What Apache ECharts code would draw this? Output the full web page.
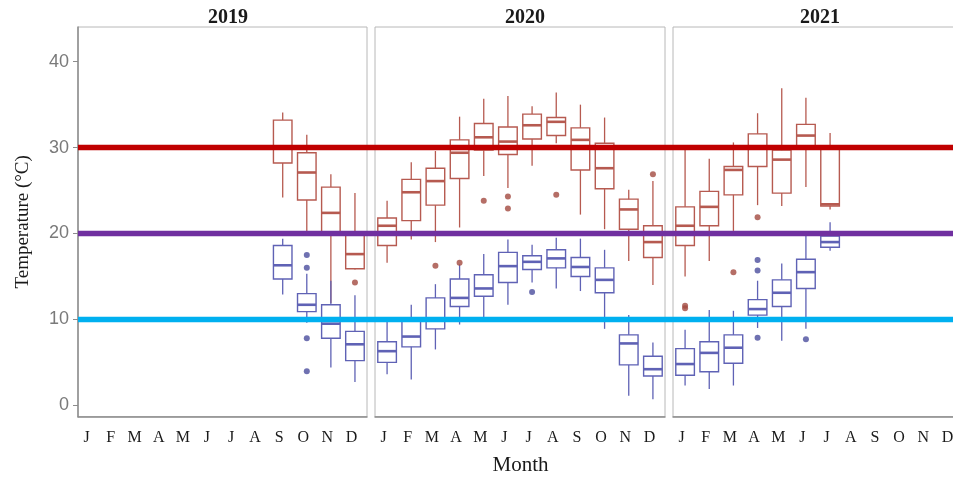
<!DOCTYPE html>
<html>
<head>
<meta charset="utf-8">
<script src="https://cdn.jsdelivr.net/npm/echarts@6/dist/echarts.min.js"></script>
<style>html,body{margin:0;padding:0;background:#fff}#c{width:953px;height:480px}</style>
</head>
<body>
<div id="c"></div>
<script>
const months = ['J','F','M','A','M','J','J','A','S','O','N','D'];
const years = ['2019','2020','2021'];
const yTicks = [0, 10, 20, 30, 40];
const thresholds = [30, 20, 10];

// per month: [min, q1, median, q3, max]; null = no data
const tmax2019 = [null,null,null,null,null,null,null,null,
  [24.2,28.2,30.0,33.2,34.1],
  [20.1,23.9,27.1,29.4,31.5],
  [11.9,20.2,22.4,25.4,26.9],
  [15.8,15.9,17.6,19.8,24.7]];
const tmin2019 = [null,null,null,null,null,null,null,null,
  [12.9,14.7,16.3,18.6,19.4],
  [9.6,10.9,11.7,13.0,15.3],
  [4.4,7.8,9.5,11.7,14.5],
  [2.7,5.2,7.1,8.6,12.8]];
const tmax2020 = [
  [16.6,18.6,20.9,21.8,23.8],
  [19.3,21.5,24.8,26.3,28.3],
  [19.0,23.3,26.1,27.6,29.6],
  [20.7,26.4,29.4,30.9,33.6],
  [26.7,29.7,31.2,32.8,35.7],
  [25.3,29.2,30.7,32.4,36.0],
  [27.9,31.0,32.6,33.9,34.8],
  [30.5,31.4,33.0,33.5,36.4],
  [22.2,27.4,30.9,32.3,35.0],
  [20.5,25.2,27.6,30.5,33.5],
  [16.8,20.5,22.8,24.0,25.1],
  [14.0,17.2,19.0,20.9,26.1]];
const tmin2020 = [
  [3.6,5.0,6.3,7.4,9.8],
  [3.0,6.8,8.0,10.0,11.7],
  [6.5,8.9,10.0,12.5,14.1],
  [9.4,11.5,12.5,14.7,16.4],
  [9.8,12.7,13.6,15.2,17.6],
  [11.7,14.3,16.2,17.8,19.3],
  [14.3,15.8,16.7,17.4,18.7],
  [13.6,16.0,17.1,18.1,19.5],
  [13.3,15.0,16.1,17.2,19.4],
  [8.9,13.1,14.6,16.0,18.1],
  [1.1,4.7,7.2,8.2,10.5],
  [0.7,3.4,4.2,5.7,7.3]];
const tmax2021 = [
  [15.0,18.6,20.9,23.1,30.0],
  [16.8,20.9,23.1,24.9,28.7],
  [20.3,24.5,27.4,27.8,30.6],
  [23.3,27.8,29.9,31.6,34.0],
  [23.2,24.7,28.6,29.7,36.9],
  [25.4,29.8,31.4,32.7,35.8],
  [22.8,23.2,23.4,29.8,31.7],
  null,null,null,null,null];
const tmin2021 = [
  [2.3,3.5,4.8,6.6,8.8],
  [1.9,3.9,6.1,7.4,11.1],
  [2.3,4.9,6.7,8.2,11.0],
  [9.0,10.5,11.2,12.3,14.5],
  [7.5,11.5,13.1,14.6,16.5],
  [8.9,13.6,15.5,17.0,19.7],
  [18.0,18.4,19.0,19.7,21.3],
  null,null,null,null,null];

// outliers: [month index, value]
const outMax2019 = [[11,14.3]];
const outMin2019 = [[9,17.5],[9,16.0],[9,7.8],[9,3.95]];
const outMax2020 = [[2,16.25],[3,16.6],[4,23.8],[5,24.3],[5,22.9],[7,24.5],[11,26.9]];
const outMin2020 = [[6,13.2]];
const outMax2021 = [[0,11.6],[0,11.3],[2,15.5],[3,21.9]];
const outMin2021 = [[3,16.9],[3,15.7],[3,7.85],[5,7.7]];

const maxSets = [tmax2019, tmax2020, tmax2021];
const minSets = [tmin2019, tmin2020, tmin2021];
const outMaxSets = [outMax2019, outMax2020, outMax2021];
const outMinSets = [outMin2019, outMin2020, outMin2021];

const RED = '#b65a50', BLUE = '#5f62b5';
const RED_PT = '#a34a40', BLUE_PT = '#4b4d9e';
const lineColors = ['#c00000', '#7030a0', '#00b0f0'];
const Y_MIN = -1.33, Y_MAX = 44.04;
const TOP = 27, H = 389.7;
const panels = [{left:78, width:289}, {left:375, width:290}, {left:673, width:290}];
const stripX = [228, 525, 820];
const serif = 'Liberation Serif';

function toBoxData(arr) {
  const out = [];
  arr.forEach((v, i) => { if (v) out.push([i].concat(v)); });
  return out;
}

function boxRender(color) {
  return function (params, api) {
    const x = api.value(0);
    const lo = api.coord([x, api.value(1)]);
    const q1 = api.coord([x, api.value(2)]);
    const md = api.coord([x, api.value(3)]);
    const q3 = api.coord([x, api.value(4)]);
    const hi = api.coord([x, api.value(5)]);
    const bw = api.size([1, 0])[0] * 0.77;
    const cx = lo[0];
    const st = {stroke: color, lineWidth: 1.3, fill: null};
    return {type: 'group', children: [
      {type: 'line', shape: {x1: cx, y1: hi[1], x2: cx, y2: q3[1]}, style: st},
      {type: 'line', shape: {x1: cx, y1: q1[1], x2: cx, y2: lo[1]}, style: st},
      {type: 'rect', shape: {x: cx - bw/2, y: q3[1], width: bw, height: q1[1] - q3[1]},
        style: {stroke: color, lineWidth: 1.4, fill: 'rgba(255,255,255,0)'}},
      {type: 'line', shape: {x1: cx - bw/2, y1: md[1], x2: cx + bw/2, y2: md[1]},
        style: {stroke: color, lineWidth: 2.6}}
    ]};
  };
}

const grid = [], xAxis = [], yAxis = [], series = [], title = [];
panels.forEach((p, i) => {
  grid.push({left: p.left, width: p.width, top: TOP, height: H, show: true,
    borderColor: '#b8b8b8', borderWidth: 1, containLabel: false, outerBoundsMode: 'none'});
  xAxis.push({type: 'category', gridIndex: i, data: months, boundaryGap: true, position: 'bottom',
    axisLine: {show: true, onZero: false, lineStyle: {color: '#8c8c8c', width: 1.5}},
    axisTick: {show: false},
    axisLabel: {fontFamily: serif, fontSize: 16, color: '#1a1a1a', margin: 13, interval: 0,
      padding: [0, 7, 0, 0]},
    splitLine: {show: false}});
  yAxis.push({type: 'value', gridIndex: i, min: Y_MIN, max: Y_MAX,
    axisLine: {show: i === 0, onZero: false, lineStyle: {color: '#8c8c8c', width: 1.5}},
    axisTick: {show: i === 0, length: 5, lineStyle: {color: '#8c8c8c'}, customValues: yTicks},
    axisLabel: {show: i === 0, fontFamily: 'Liberation Sans', fontSize: 18, color: '#7a7a7a', margin: 9, customValues: yTicks},
    splitLine: {show: false},
    name: i === 0 ? 'Temperature (°C)' : '', nameLocation: 'middle', nameGap: 45,
    nameTextStyle: {fontFamily: serif, fontSize: 19, color: '#1a1a1a'}});
  series.push({type: 'custom', xAxisIndex: i, yAxisIndex: i, renderItem: boxRender(RED),
    data: toBoxData(maxSets[i]), encode: {x: 0, y: [1,2,3,4,5]}, z: 2, silent: true});
  series.push({type: 'custom', xAxisIndex: i, yAxisIndex: i, renderItem: boxRender(BLUE),
    data: toBoxData(minSets[i]), encode: {x: 0, y: [1,2,3,4,5]}, z: 2, silent: true});
  series.push({type: 'scatter', xAxisIndex: i, yAxisIndex: i, data: outMaxSets[i],
    symbolSize: 6, itemStyle: {color: RED_PT}, z: 3, silent: true});
  series.push({type: 'scatter', xAxisIndex: i, yAxisIndex: i, data: outMinSets[i],
    symbolSize: 6, itemStyle: {color: BLUE_PT}, z: 3, silent: true});
  title.push({text: years[i], left: stripX[i], top: 8, textAlign: 'center', padding: 0,
    textStyle: {fontFamily: serif, fontSize: 20, fontWeight: 'bold', color: '#1a1a1a'}});
});

// overlay grid for full-width threshold lines and the x-axis title
grid.push({left: 78, width: 885, top: TOP, height: H, show: false, outerBoundsMode: 'none'});
xAxis.push({type: 'value', gridIndex: 3, min: 0, max: 1,
  axisLine: {show: false}, axisTick: {show: false}, axisLabel: {show: false}, splitLine: {show: false},
  name: 'Month', nameLocation: 'middle', nameGap: 38,
  nameTextStyle: {fontFamily: serif, fontSize: 21, color: '#1a1a1a'}});
yAxis.push({type: 'value', gridIndex: 3, min: Y_MIN, max: Y_MAX, show: false});
thresholds.forEach((t, k) => {
  series.push({type: 'line', xAxisIndex: 3, yAxisIndex: 3, data: [[0, t], [1, t]],
    symbol: 'none', lineStyle: {color: lineColors[k], width: 5.5}, z: 10, silent: true});
});

const chart = echarts.init(document.getElementById('c'), null, {renderer: 'canvas'});
chart.setOption({animation: false, backgroundColor: '#fff', title, grid, xAxis, yAxis, series});
</script>
</body>
</html>
